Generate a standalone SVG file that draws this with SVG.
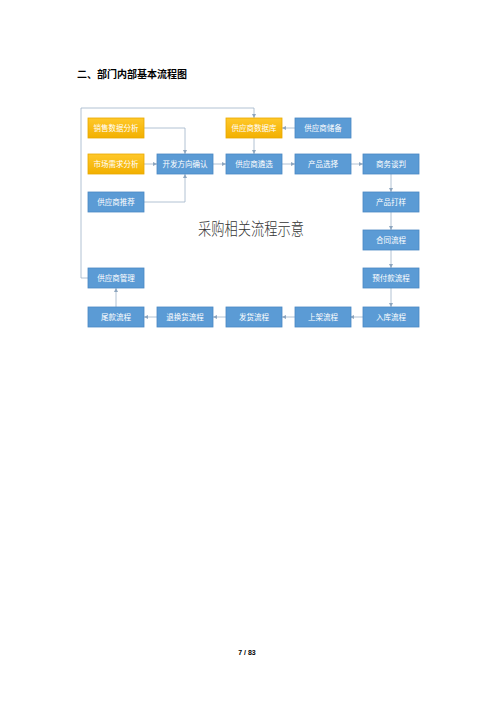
<svg xmlns="http://www.w3.org/2000/svg" width="500" height="707" viewBox="0 0 500 707">
<defs>
<style>
.b{fill:#5b9bd5;stroke:#4a87c2;stroke-width:0.8}
.y{fill:url(#yg);stroke:#e8a900;stroke-width:0.8}
.t{font-family:"Noto Sans CJK SC","Liberation Sans",sans-serif;font-size:7.5px;fill:#ffffff;text-anchor:middle}
.c{fill:none;stroke:#9fb3c8;stroke-width:0.8;marker-end:url(#a)}
</style>
<linearGradient id="yg" x1="0" y1="0" x2="0" y2="1">
<stop offset="0" stop-color="#ffc82a"/>
<stop offset="1" stop-color="#f2b000"/>
</linearGradient>
<marker id="a" viewBox="0 0 6 6" refX="6" refY="3" markerWidth="4" markerHeight="4" orient="auto" markerUnits="userSpaceOnUse">
<path d="M0,0 L6,3 L0,6 z" fill="#8ea6bf"/>
</marker>
</defs>
<rect width="500" height="707" fill="#ffffff"/>
<text x="77" y="78" font-family="Noto Sans CJK SC,Liberation Sans,sans-serif" font-size="10" font-weight="bold" fill="#000">二、部门内部基本流程图</text>
<text x="198" y="234.5" font-family="Noto Sans CJK SC,Liberation Sans,sans-serif" font-size="16.5" font-weight="300" fill="#333" textLength="106" lengthAdjust="spacingAndGlyphs">采购相关流程示意</text>
<g id="connectors">
<path class="c" d="M144,128 H185 V154"/>
<path class="c" d="M144,164 H157"/>
<path class="c" d="M144,202 H185 V174"/>
<path class="c" d="M213,164 H226"/>
<path class="c" d="M295,128 H282"/>
<path class="c" d="M254,138 V154"/>
<path class="c" d="M282,164 H295"/>
<path class="c" d="M350,164 H363"/>
<path class="c" d="M391,174 V192"/>
<path class="c" d="M391,212 V230"/>
<path class="c" d="M391,250 V268"/>
<path class="c" d="M391,288 V307"/>
<path class="c" d="M363,317 H350"/>
<path class="c" d="M295,317 H282"/>
<path class="c" d="M226,317 H213"/>
<path class="c" d="M157,317 H144"/>
<path class="c" d="M116,307 V288"/>
<path class="c" d="M88,278 H81 V108 H254 V118"/>
</g>
<g id="n1"><rect class="y" x="88" y="118" width="56" height="20"/><text class="t" x="116" y="130.7">销售数据分析</text></g>
<g id="n2"><rect class="y" x="88" y="154" width="56" height="20"/><text class="t" x="116" y="166.7">市场需求分析</text></g>
<g id="n3"><rect class="b" x="88" y="192" width="56" height="20"/><text class="t" x="116" y="204.7">供应商推荐</text></g>
<g id="n4"><rect class="b" x="157" y="154" width="56" height="20"/><text class="t" x="185" y="166.7">开发方向确认</text></g>
<g id="n5"><rect class="y" x="226" y="118" width="56" height="20"/><text class="t" x="254" y="130.7">供应商数据库</text></g>
<g id="n6"><rect class="b" x="295" y="118" width="56" height="20"/><text class="t" x="323" y="130.7">供应商储备</text></g>
<g id="n7"><rect class="b" x="226" y="154" width="56" height="20"/><text class="t" x="254" y="166.7">供应商遴选</text></g>
<g id="n8"><rect class="b" x="295" y="154" width="56" height="20"/><text class="t" x="323" y="166.7">产品选择</text></g>
<g id="n9"><rect class="b" x="363" y="154" width="56" height="20"/><text class="t" x="391" y="166.7">商务谈判</text></g>
<g id="n10"><rect class="b" x="363" y="192" width="56" height="20"/><text class="t" x="391" y="204.7">产品打样</text></g>
<g id="n11"><rect class="b" x="363" y="230" width="56" height="20"/><text class="t" x="391" y="242.7">合同流程</text></g>
<g id="n12"><rect class="b" x="363" y="268" width="56" height="20"/><text class="t" x="391" y="280.7">预付款流程</text></g>
<g id="n13"><rect class="b" x="363" y="307" width="56" height="20"/><text class="t" x="391" y="319.7">入库流程</text></g>
<g id="n14"><rect class="b" x="295" y="307" width="56" height="20"/><text class="t" x="323" y="319.7">上架流程</text></g>
<g id="n15"><rect class="b" x="226" y="307" width="56" height="20"/><text class="t" x="254" y="319.7">发货流程</text></g>
<g id="n16"><rect class="b" x="157" y="307" width="56" height="20"/><text class="t" x="185" y="319.7">退换货流程</text></g>
<g id="n17"><rect class="b" x="88" y="307" width="56" height="20"/><text class="t" x="116" y="319.7">尾款流程</text></g>
<g id="n18"><rect class="b" x="88" y="268" width="56" height="20"/><text class="t" x="116" y="280.7">供应商管理</text></g>
<text x="247" y="655" font-family="Liberation Sans,sans-serif" font-size="7" font-weight="bold" fill="#000" text-anchor="middle">7 / 83</text>
</svg>
